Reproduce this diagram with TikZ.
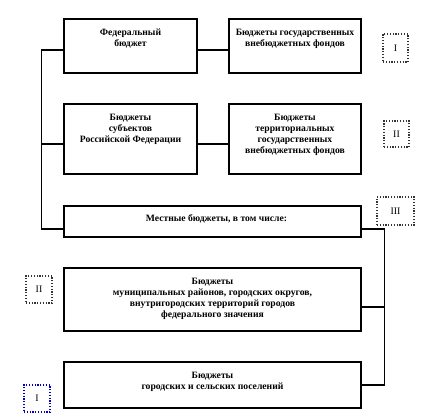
\documentclass[tikz,border=0pt]{standalone}
\usepackage{fontspec}
\setmainfont{Liberation Serif}
\newcommand{\topstrut}{\rule{0pt}{7.5bp}}
\begin{document}
\begin{tikzpicture}[x=1bp,y=-1bp,
  box/.style={draw, line width=1.3bp, inner sep=0pt},
  txt/.style={anchor=north, align=center, inner sep=0pt, font=\fontsize{9.7}{11.2}\selectfont\bfseries},
  conn/.style={line width=1.3bp},
  lvl/.style={draw=black!80, line width=1.4bp, dash pattern=on 1.2bp off 1.6bp, inner sep=0pt, font=\fontsize{10}{12}\selectfont},
  lvlblue/.style={lvl, draw=blue!75!black}
]
\path[use as bounding box, fill=white] (0,0) rectangle (434,416);

% boxes
\node[box, minimum width=133bp, minimum height=54bp] (fed) at (130.5,46) {};
\node[box, minimum width=132bp, minimum height=54bp] (fund) at (295,46) {};
\node[box, minimum width=133bp, minimum height=70bp] (subj) at (130.5,139) {};
\node[box, minimum width=132bp, minimum height=70bp] (terr) at (295,139) {};
\node[box, minimum width=297bp, minimum height=31bp] (mest) at (212.5,221.5) {};
\node[box, minimum width=297bp, minimum height=63bp] (mun) at (212.5,299.5) {};
\node[box, minimum width=297bp, minimum height=46bp] (pos) at (212.5,385) {};

% texts
\node[txt] (fedt) at ([yshift=-9bp]fed.north) {\topstrut Федеральный\\бюджет};
\node[txt] (fundt) at ([yshift=-9bp]fund.north) {\topstrut Бюджеты государственных\\внебюджетных фондов};
\node[txt] (subjt) at ([yshift=-9bp]subj.north) {\topstrut Бюджеты\\субъектов\\Российской Федерации};
\node[txt] (terrt) at ([yshift=-9bp]terr.north) {\topstrut Бюджеты\\территориальных\\государственных\\внебюджетных фондов};
\node[txt] (mestt) at ([yshift=-8.5bp,xshift=4bp]mest.north) {\topstrut Местные бюджеты, в том числе:};
\node[txt] (munt) at ([yshift=-9bp]mun.north) {\topstrut Бюджеты\\муниципальных районов, городских округов,\\внутригородских территорий городов\\федерального значения};
\node[txt] (post) at ([yshift=-9bp]pos.north) {\topstrut Бюджеты\\городских и сельских поселений};

% level marks
\node[lvl, minimum width=25bp, minimum height=28bp] (m1) at (395.5,48) {I};
\node[lvl, minimum width=25bp, minimum height=26bp] (m2) at (396.5,134) {II};
\node[lvl, minimum width=37bp, minimum height=28bp] (m3) at (395.5,211) {III};
\node[lvl, minimum width=26bp, minimum height=27bp] (m4) at (39,289.5) {II};
\node[lvlblue, minimum width=26bp, minimum height=27bp] (m5) at (37,398.5) {I};

% connectors
\draw[conn] ([yshift=-4bp]fed.east) -- ([yshift=-4bp]fund.west);
\draw[conn] ([yshift=-5bp]subj.east) -- ([yshift=-5bp]terr.west);
\draw[conn] ([yshift=-4bp]fed.west) -- ++(-22,0) coordinate (ltop) |- ([yshift=-7.5bp]mest.west);
\draw[conn] ([yshift=-5bp]subj.west) -- ([yshift=-5bp]subj.west -| ltop);
\draw[conn] ([yshift=-7.5bp]mest.east) -- ++(23,0) coordinate (rtop) |- (pos.east);
\draw[conn] ([yshift=-7.5bp]mun.east) -- ([yshift=-7.5bp]mun.east -| rtop);
\end{tikzpicture}
\end{document}
